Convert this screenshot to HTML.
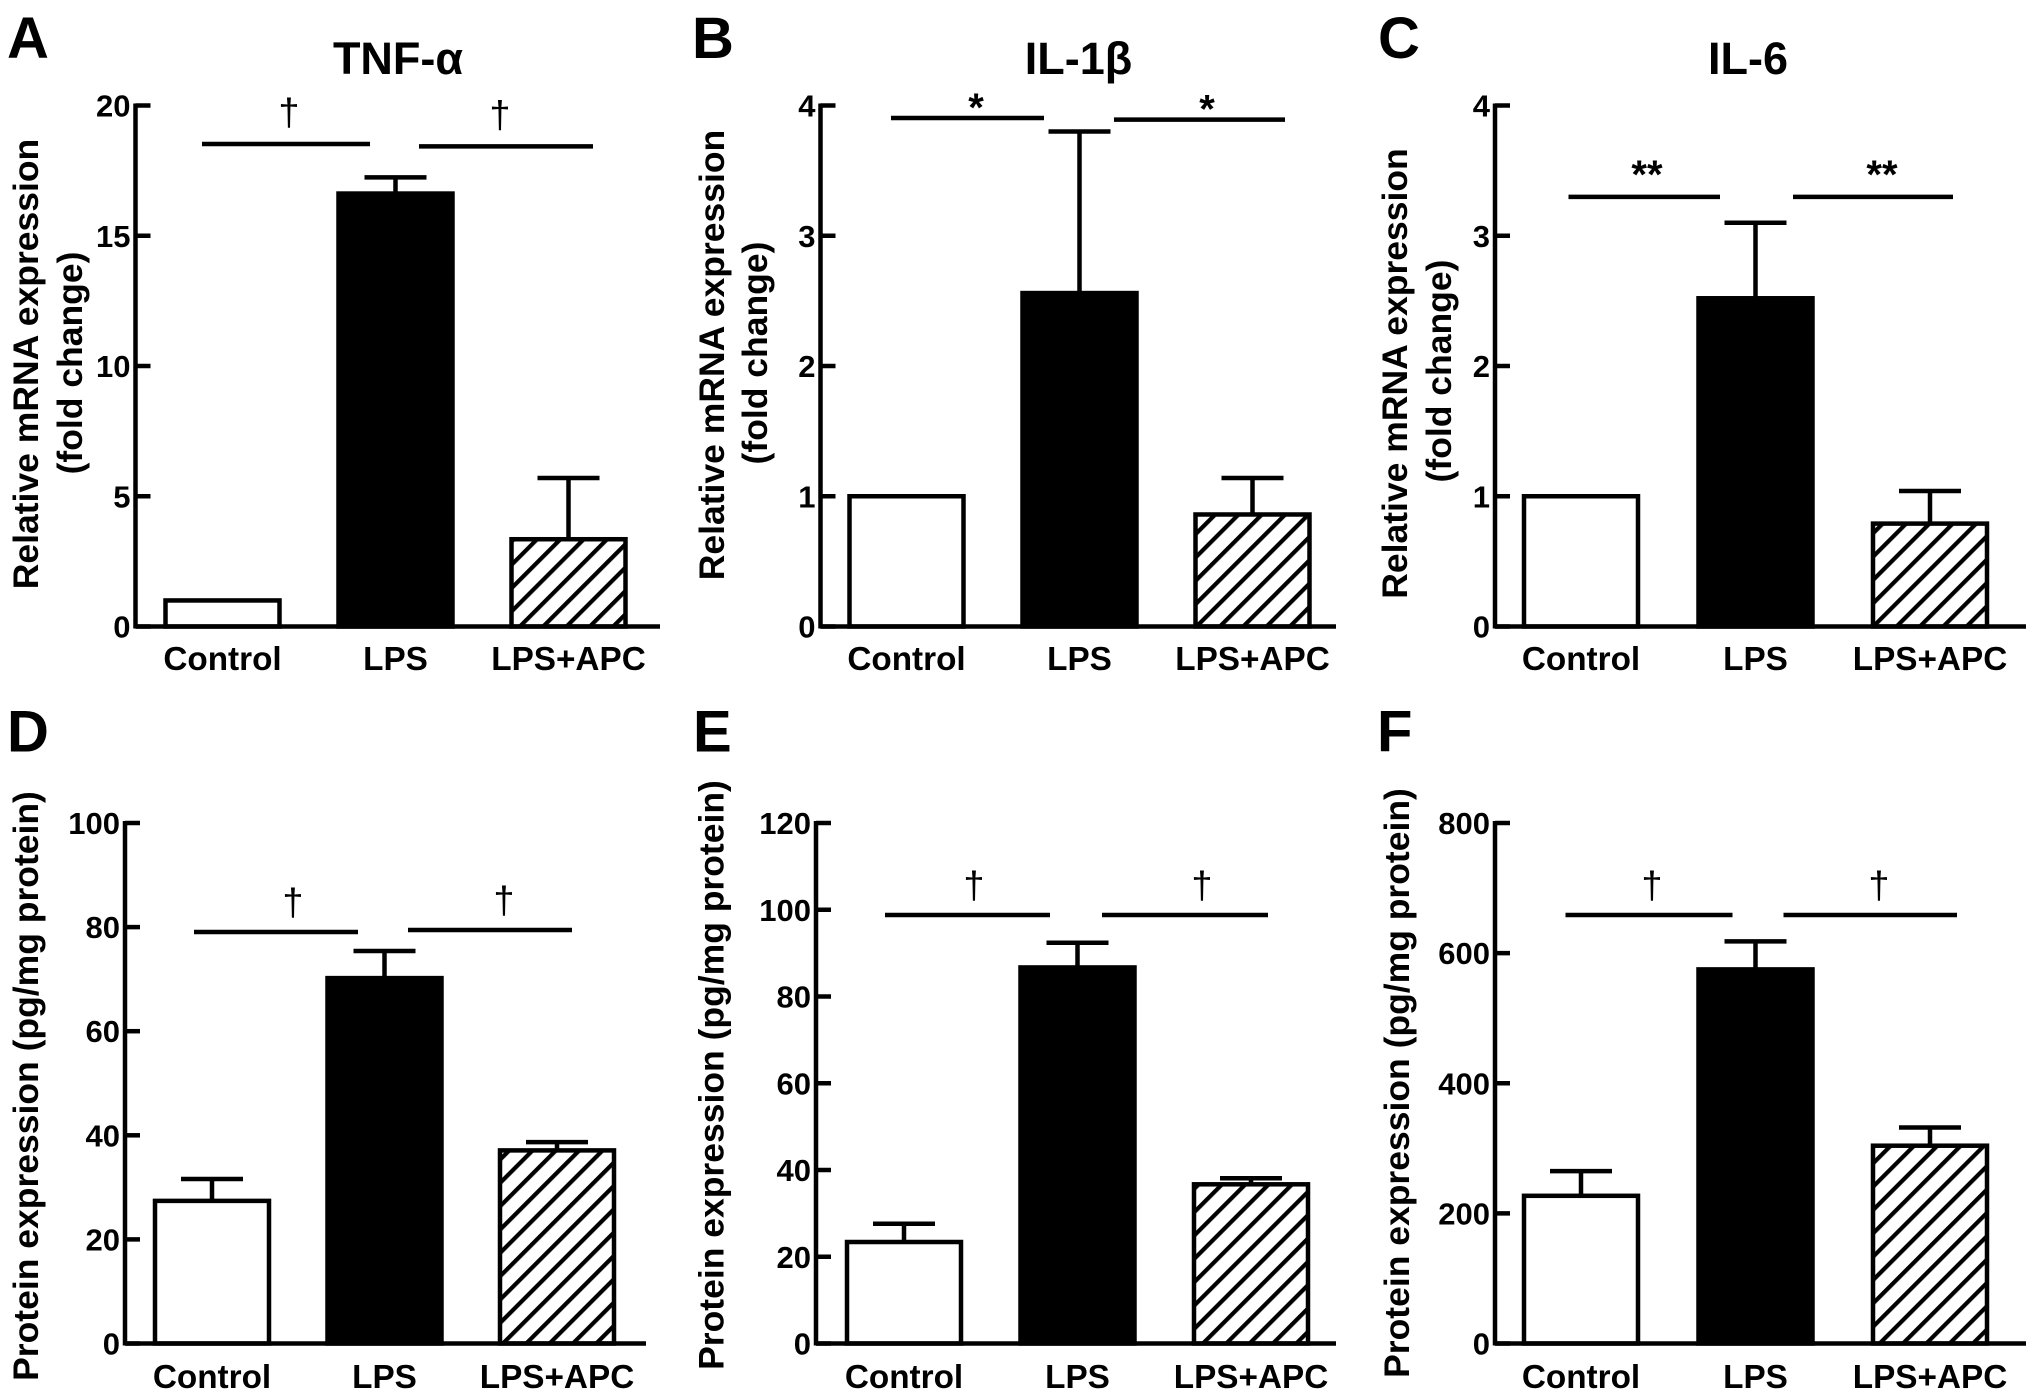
<!DOCTYPE html>
<html lang="en">
<head>
<meta charset="utf-8">
<title>Cytokine expression bar charts</title>
<style>
  html, body { margin: 0; padding: 0; background: #fff; }
  svg { display: block; }
  text { font-family: "Liberation Sans", Arial, sans-serif; font-weight: bold; fill: #000; }
</style>
</head>
<body>
<svg id="figure" xmlns="http://www.w3.org/2000/svg" width="2031" height="1400" viewBox="0 0 2031 1400">
  <defs>
    <pattern id="hatch" patternUnits="userSpaceOnUse" width="16.5" height="16.5" patternTransform="rotate(45)">
      <rect width="16.5" height="16.5" fill="#fff"></rect>
      <rect x="0" y="0" width="4.2" height="16.5" fill="#000"></rect>
    </pattern>
  </defs>
</svg>
<script>
const categories = ['Control', 'LPS', 'LPS+APC'];

const valuesA = [1, 16.62, 3.35];
const valuesB = [1, 2.56, 0.86];
const valuesC = [1, 2.52, 0.79];
const valuesD = [27.4, 70.2, 37.1];
const valuesE = [23.4, 86.7, 36.7];
const valuesF = [227, 575, 304];

const errorsA = [0, 0.62, 2.35];
const errorsB = [0, 1.24, 0.28];
const errorsC = [0, 0.58, 0.25];
const errorsD = [4.2, 5.2, 1.6];
const errorsE = [4.2, 5.7, 1.4];
const errorsF = [38, 43, 28];

const ticksA = [0, 5, 10, 15, 20];
const ticksB = [0, 1, 2, 3, 4];
const ticksC = [0, 1, 2, 3, 4];
const ticksD = [0, 20, 40, 60, 80, 100];
const ticksE = [0, 20, 40, 60, 80, 100, 120];
const ticksF = [0, 200, 400, 600, 800];

const sigLevelsA = [18.52, 18.43];
const sigLevelsB = [3.904, 3.892];
const sigLevelsC = [3.298, 3.298];
const sigLevelsD = [79.06, 79.44];
const sigLevelsE = [98.8, 98.8];
const sigLevelsF = [658.6, 658.6];

const mrnaTitle = ['Relative mRNA expression', '(fold change)'];
const proteinTitle = ['Protein expression (pg/mg protein)'];

const panels = [
  { id: 'a', letter: 'A', title: 'TNF-\u03b1', titleX: 398, letterX: 7, letterY: 58,
    values: valuesA, errors: errorsA, ticks: ticksA, sig: sigLevelsA, mark: '\u2020',
    axisX: 135.5, endX: 660, top: 105.5, bottom: 626.5, firstCenter: 222.5, step: 173, labelY: 670,
    yTitle: mrnaTitle, yTitleX: [38, 82], yTitleY: [364, 363],
    sigSpans: [[202, 370], [419, 593]], sigMarkX: [289, 500], sigMarkDy: -19 },
  { id: 'b', letter: 'B', title: 'IL-1\u03b2', titleX: 1078.5, letterX: 692, letterY: 58,
    values: valuesB, errors: errorsB, ticks: ticksB, sig: sigLevelsB, mark: '*',
    axisX: 820.5, endX: 1336, top: 105.5, bottom: 626.5, firstCenter: 906.5, step: 173, labelY: 670,
    yTitle: mrnaTitle, yTitleX: [724, 767], yTitleY: [355, 353],
    sigSpans: [[891, 1044], [1114, 1285]], sigMarkX: [976, 1207], sigMarkDy: 3 },
  { id: 'c', letter: 'C', title: 'IL-6', titleX: 1748, letterX: 1378, letterY: 58,
    values: valuesC, errors: errorsC, ticks: ticksC, sig: sigLevelsC, mark: '**',
    axisX: 1495, endX: 2026, top: 105.5, bottom: 626.5, firstCenter: 1581, step: 174.5, labelY: 670,
    yTitle: mrnaTitle, yTitleX: [1407, 1451], yTitleY: [373.5, 371],
    sigSpans: [[1568.5, 1720], [1793, 1953]], sigMarkX: [1647, 1882], sigMarkDy: -9 },
  { id: 'd', letter: 'D', title: '', titleX: 0, letterX: 7, letterY: 751.5,
    values: valuesD, errors: errorsD, ticks: ticksD, sig: sigLevelsD, mark: '\u2020',
    axisX: 125, endX: 646, top: 823, bottom: 1343.5, firstCenter: 212, step: 172.5, labelY: 1388,
    yTitle: proteinTitle, yTitleX: [38], yTitleY: [1086],
    sigSpans: [[194, 358], [408, 572]], sigMarkX: [293, 504], sigMarkDy: -17 },
  { id: 'e', letter: 'E', title: '', titleX: 0, letterX: 693, letterY: 751.5,
    values: valuesE, errors: errorsE, ticks: ticksE, sig: sigLevelsE, mark: '\u2020',
    axisX: 816, endX: 1336, top: 823, bottom: 1343.5, firstCenter: 904, step: 173.5, labelY: 1388,
    yTitle: proteinTitle, yTitleX: [723.5], yTitleY: [1075],
    sigSpans: [[885, 1050], [1102, 1268]], sigMarkX: [974, 1202], sigMarkDy: -17 },
  { id: 'f', letter: 'F', title: '', titleX: 0, letterX: 1377, letterY: 751.5,
    values: valuesF, errors: errorsF, ticks: ticksF, sig: sigLevelsF, mark: '\u2020',
    axisX: 1495, endX: 2026, top: 823, bottom: 1343.5, firstCenter: 1581, step: 174.5, labelY: 1388,
    yTitle: proteinTitle, yTitleX: [1409], yTitleY: [1083],
    sigSpans: [[1565.5, 1732.5], [1783.5, 1957]], sigMarkX: [1652, 1879], sigMarkDy: -17 }
];

const barFills = ['#fff', '#000', 'url(#hatch)'];
const barKeys = ['control', 'lps', 'lps-apc'];

const NS = 'http://www.w3.org/2000/svg';
const figure = document.getElementById('figure');

function add(parent, tag, attrs, content) {
  const node = document.createElementNS(NS, tag);
  for (const key in attrs) node.setAttribute(key, attrs[key]);
  if (content !== undefined) node.textContent = content;
  parent.appendChild(node);
  return node;
}

function line(parent, x1, y1, x2, y2, width) {
  return add(parent, 'line', { x1: x1, y1: y1, x2: x2, y2: y2, stroke: '#000', 'stroke-width': width });
}

panels.forEach(function (p) {
  const maxTick = p.ticks[p.ticks.length - 1];
  const yScale = function (v) { return p.bottom - (v / maxTick) * (p.bottom - p.top); };
  const xScale = function (i) { return p.firstCenter + i * p.step; };

  const group = add(figure, 'g', {});
  
  

  const letter = add(group, 'text', { x: p.letterX, y: p.letterY, 'font-size': 58 }, p.letter);
  
  

  if (p.title) {
    const title = add(group, 'text', { x: p.titleX, y: 74, 'font-size': 45, 'text-anchor': 'middle' }, p.title);
    
    
  }

  p.yTitle.forEach(function (str, i) {
    const tx = p.yTitleX[i];
    const ty = p.yTitleY[i];
    const yt = add(group, 'text', {
      x: tx, y: ty, 'font-size': 35.5, 'text-anchor': 'middle',
      transform: 'rotate(-90 ' + tx + ' ' + ty + ')'
    }, str);
    
    
  });

  p.values.forEach(function (v, i) {
    const cx = xScale(i);
    const err = p.errors[i];
    if (err > 0) {
      const stem = line(group, cx, yScale(v + err), cx, yScale(v), 4.5);
      
      
      const cap = line(group, cx - 31, yScale(v + err), cx + 31, yScale(v + err), 4.5);
      
      
    }
    const bar = add(group, 'rect', {
      x: cx - 57, y: yScale(v), width: 114, height: p.bottom - yScale(v),
      fill: barFills[i], stroke: '#000', 'stroke-width': 4.5
    });
    
    

    const label = add(group, 'text', { x: cx, y: p.labelY, 'font-size': 33.3, 'text-anchor': 'middle' }, categories[i]);
    
    
  });

  const yAxis = line(group, p.axisX, p.top - 2, p.axisX, p.bottom + 2, 4.5);
  
  

  const xAxis = line(group, p.axisX, p.bottom, p.endX, p.bottom, 4.5);
  
  

  p.ticks.forEach(function (t) {
    const y = yScale(t);
    const tick = line(group, p.axisX, y, p.axisX + 15, y, 4.5);
    
    
    const tl = add(group, 'text', { x: p.axisX - 5, y: y + 11, 'font-size': 31, 'text-anchor': 'end' }, String(t));
    
    
  });

  p.sig.forEach(function (level, i) {
    const span = p.sigSpans[i];
    const y = yScale(level);
    const bracket = line(group, span[0], y, span[1], y, 4.5);
    
    
    const mark = add(group, 'text', {
      x: p.sigMarkX[i], y: y + p.sigMarkDy, 'text-anchor': 'middle',
      'font-size': p.mark === '\u2020' ? 38 : 40,
      style: p.mark === '\u2020' ? 'font-weight:normal' : ''
    }, p.mark);
    
    
  });
});
</script>
</body>
</html>
